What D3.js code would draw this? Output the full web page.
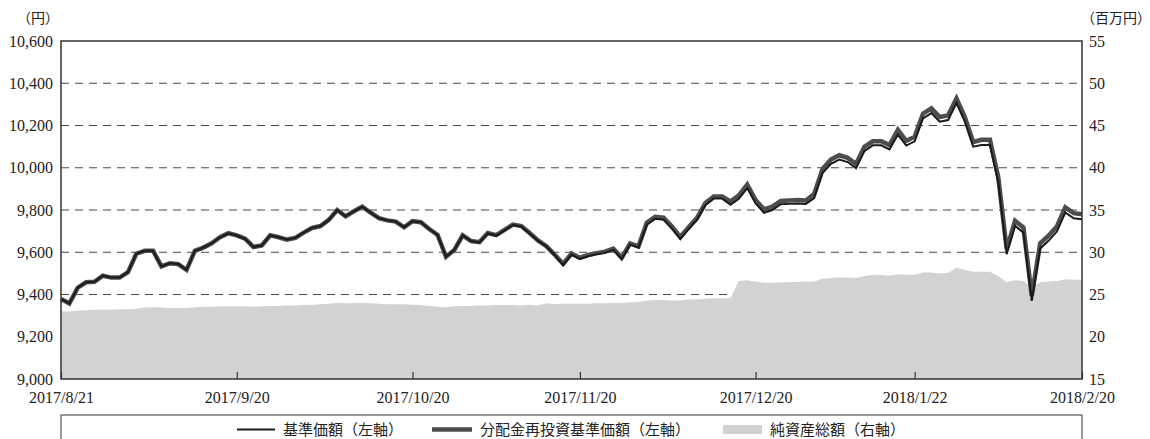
<!DOCTYPE html>
<html>
<head>
<meta charset="utf-8">
<script src="https://cdn.jsdelivr.net/npm/d3@7"></script>
<style>
  body { margin: 0; background: #fff; }
  .num { font-family: "Liberation Serif", "Times New Roman", serif; font-size: 16px; fill: #222; }
  .jp { font-family: "Liberation Serif", "Noto Sans CJK JP", serif; font-size: 15px; fill: #222; }
</style>
</head>
<body>
<div class="chart"></div>
<script>
// business days shown on the x axis
var dates = [
  "2017/8/21","2017/8/22","2017/8/23","2017/8/24","2017/8/25","2017/8/28","2017/8/29","2017/8/30","2017/8/31",
  "2017/9/1","2017/9/4","2017/9/5","2017/9/6","2017/9/7","2017/9/8","2017/9/11","2017/9/12","2017/9/13","2017/9/14","2017/9/15",
  "2017/9/19","2017/9/20","2017/9/21","2017/9/22","2017/9/25","2017/9/26","2017/9/27","2017/9/28","2017/9/29",
  "2017/10/2","2017/10/3","2017/10/4","2017/10/5","2017/10/6","2017/10/10","2017/10/11","2017/10/12","2017/10/13",
  "2017/10/16","2017/10/17","2017/10/18","2017/10/19","2017/10/20","2017/10/23","2017/10/24","2017/10/25","2017/10/26","2017/10/27",
  "2017/10/30","2017/10/31","2017/11/1","2017/11/2","2017/11/6","2017/11/7","2017/11/8","2017/11/9","2017/11/10",
  "2017/11/13","2017/11/14","2017/11/15","2017/11/16","2017/11/17","2017/11/20","2017/11/21","2017/11/22","2017/11/24",
  "2017/11/27","2017/11/28","2017/11/29","2017/11/30","2017/12/1","2017/12/4","2017/12/5","2017/12/6","2017/12/7","2017/12/8",
  "2017/12/11","2017/12/12","2017/12/13","2017/12/14","2017/12/15","2017/12/18","2017/12/19","2017/12/20","2017/12/21","2017/12/22",
  "2017/12/25","2017/12/26","2017/12/27","2017/12/28","2017/12/29","2018/1/4","2018/1/5","2018/1/9","2018/1/10","2018/1/11","2018/1/12",
  "2018/1/15","2018/1/16","2018/1/17","2018/1/18","2018/1/19","2018/1/22","2018/1/23","2018/1/24","2018/1/25","2018/1/26",
  "2018/1/29","2018/1/30","2018/1/31","2018/2/1","2018/2/2","2018/2/5","2018/2/6","2018/2/7","2018/2/8","2018/2/9",
  "2018/2/13","2018/2/14","2018/2/15","2018/2/16","2018/2/19","2018/2/20"
];

// 基準価額 (円)
var nav = [
  9379,9358,9432,9458,9460,9489,9480,9480,9506,9593,
  9607,9607,9533,9548,9544,9517,9607,9622,9642,9671,
  9690,9680,9664,9625,9632,9680,9671,9660,9668,9693,
  9715,9724,9753,9800,9770,9794,9816,9787,9761,9751,
  9745,9718,9747,9742,9710,9682,9579,9611,9680,9653,
  9646,9689,9679,9704,9729,9722,9689,9654,9627,9586,
  9539,9588,9568,9581,9590,9597,9611,9568,9636,9622,
  9730,9758,9754,9712,9662,9709,9753,9823,9854,9854,
  9825,9853,9904,9831,9787,9800,9827,9829,9831,9829,
  9856,9975,10019,10039,10027,9998,10079,10106,10106,10087,
  10157,10105,10125,10234,10259,10218,10226,10306,10218,10100,
  10108,10108,9930,9591,9725,9693,9370,9618,9654,9698,
  9788,9761,9756
];

// 分配金再投資基準価額 (円)
var navReinv = [
  9379,9358,9432,9458,9460,9489,9480,9480,9506,9593,
  9607,9607,9533,9548,9544,9517,9607,9622,9642,9671,
  9690,9680,9664,9625,9632,9680,9671,9660,9668,9693,
  9715,9724,9753,9800,9770,9794,9816,9787,9761,9751,
  9745,9718,9747,9742,9710,9682,9579,9611,9680,9653,
  9648,9691,9681,9706,9731,9724,9691,9656,9629,9588,
  9545,9594,9574,9587,9596,9603,9617,9574,9642,9628,
  9740,9768,9764,9722,9672,9719,9763,9833,9864,9864,
  9841,9869,9920,9847,9803,9816,9843,9845,9847,9845,
  9876,9995,10039,10059,10047,10018,10099,10126,10126,10107,
  10179,10127,10147,10256,10281,10240,10248,10328,10240,10122,
  10132,10132,9954,9615,9749,9717,9394,9642,9678,9722,
  9812,9785,9780
];

// 純資産総額 (百万円)
var netAssets = [
  23.0,23.0,23.1,23.15,23.2,23.2,23.2,23.25,23.25,23.3,
  23.45,23.5,23.45,23.4,23.4,23.4,23.5,23.55,23.55,23.6,
  23.6,23.6,23.6,23.55,23.6,23.65,23.65,23.7,23.7,23.75,
  23.8,23.85,23.9,24.0,23.95,24.0,24.0,23.95,23.9,23.85,
  23.85,23.85,23.8,23.75,23.65,23.55,23.5,23.6,23.65,23.65,
  23.7,23.7,23.75,23.75,23.75,23.7,23.8,23.7,23.95,23.85,
  23.9,23.9,23.9,23.9,23.95,23.95,24.0,24.0,24.05,24.1,
  24.3,24.35,24.35,24.3,24.3,24.4,24.45,24.5,24.55,24.55,
  24.55,26.6,26.7,26.5,26.4,26.4,26.45,26.45,26.5,26.5,
  26.55,26.85,26.95,27.0,27.0,26.95,27.2,27.3,27.3,27.25,
  27.4,27.35,27.35,27.6,27.6,27.5,27.55,28.2,27.9,27.7,
  27.7,27.7,27.2,26.45,26.7,26.6,25.9,26.45,26.55,26.6,
  26.8,26.75,26.75
];

var leftTicks = [9000, 9200, 9400, 9600, 9800, 10000, 10200, 10400, 10600];
var rightTicks = [15, 20, 25, 30, 35, 40, 45, 50, 55];
var xTicks = ["2017/8/21","2017/9/20","2017/10/20","2017/11/20","2017/12/20","2018/1/22","2018/2/20"];

var svgW = 1150;
var svgH = 439;
var plot = { left: 61, right: 1082, top: 41, bottom: 379 };

var svg = d3.select(".chart")
  .append("svg")
    .attr("width", svgW)
    .attr("height", svgH);

var x = d3.scalePoint().domain(dates).range([plot.left, plot.right]);
var yL = d3.scaleLinear().domain([9000, 10600]).range([plot.bottom, plot.top]);
var yR = d3.scaleLinear().domain([15, 55]).range([plot.bottom, plot.top]);

// dashed grid
svg.append("g")
  .selectAll("line")
  .data(leftTicks.slice(1, -1))
  .enter().append("line")
    .attr("x1", plot.left)
    .attr("x2", plot.right)
    .attr("y1", function(d) { return yL(d); })
    .attr("y2", function(d) { return yL(d); })
    .attr("stroke", "#4a4a4a")
    .attr("stroke-width", 1.2)
    .attr("stroke-dasharray", "8,6");

// net assets area (right axis)
var area = d3.area()
  .x(function(d, i) { return x(dates[i]); })
  .y0(plot.bottom)
  .y1(function(d) { return yR(d); });

svg.append("path")
  .datum(netAssets)
  .attr("d", area)
  .attr("fill", "#d1d2d4");

// NAV lines (left axis)
var line = d3.line()
  .x(function(d, i) { return x(dates[i]); })
  .y(function(d) { return yL(d); });

svg.append("path")
  .datum(navReinv)
  .attr("d", line)
  .attr("fill", "none")
  .attr("stroke", "#4d4d4d")
  .attr("stroke-width", 4.5);

svg.append("path")
  .datum(nav)
  .attr("d", line)
  .attr("fill", "none")
  .attr("stroke", "#1a1a1a")
  .attr("stroke-width", 2);

// frame
svg.append("rect")
  .attr("x", plot.left)
  .attr("y", plot.top)
  .attr("width", plot.right - plot.left)
  .attr("height", plot.bottom - plot.top)
  .attr("fill", "none")
  .attr("stroke", "#333")
  .attr("stroke-width", 1.5);

// axes
var leftAxis = svg.append("g")
  .attr("transform", "translate(" + plot.left + ",0)")
  .call(d3.axisLeft(yL).tickValues(leftTicks).tickSize(0).tickPadding(8).tickFormat(d3.format(",")));

var rightAxis = svg.append("g")
  .attr("transform", "translate(" + plot.right + ",0)")
  .call(d3.axisRight(yR).tickValues(rightTicks).tickSize(0).tickPadding(7));

var bottomAxis = svg.append("g")
  .attr("transform", "translate(0," + plot.bottom + ")")
  .call(d3.axisBottom(x).tickValues(xTicks).tickSizeInner(-7).tickSizeOuter(0).tickPadding(13));

[leftAxis, rightAxis, bottomAxis].forEach(function(g) {
  g.select(".domain").remove();
  g.attr("font-family", null).attr("font-size", null);
  g.selectAll("text").attr("class", "num").attr("fill", null);
  g.selectAll("line").attr("stroke", "#333").attr("stroke-width", 1.2);
});

// unit labels
svg.append("text")
  .attr("class", "jp")
  .attr("x", 17)
  .attr("y", 23)
  .style("font-size", "14px")
  .text("（円）");

svg.append("text")
  .attr("class", "jp")
  .attr("x", 1081)
  .attr("y", 23)
  .style("font-size", "14px")
  .text("（百万円）");

// legend
var legend = svg.append("g");

legend.append("rect")
  .attr("x", plot.left)
  .attr("y", 415)
  .attr("width", plot.right - plot.left)
  .attr("height", 40)
  .attr("fill", "none")
  .attr("stroke", "#555")
  .attr("stroke-width", 1.2);

legend.append("line")
  .attr("x1", 237).attr("x2", 275)
  .attr("y1", 429.5).attr("y2", 429.5)
  .attr("stroke", "#1a1a1a")
  .attr("stroke-width", 2);

legend.append("text")
  .attr("class", "jp")
  .attr("x", 283)
  .attr("y", 435)
  .text("基準価額（左軸）");

legend.append("line")
  .attr("x1", 432).attr("x2", 472)
  .attr("y1", 429.5).attr("y2", 429.5)
  .attr("stroke", "#4d4d4d")
  .attr("stroke-width", 4.5);

legend.append("text")
  .attr("class", "jp")
  .attr("x", 480)
  .attr("y", 435)
  .text("分配金再投資基準価額（左軸）");

legend.append("rect")
  .attr("x", 723)
  .attr("y", 425)
  .attr("width", 39)
  .attr("height", 9)
  .attr("fill", "#d1d2d4");

legend.append("text")
  .attr("class", "jp")
  .attr("x", 770)
  .attr("y", 435)
  .text("純資産総額（右軸）");
</script>
</body>
</html>
